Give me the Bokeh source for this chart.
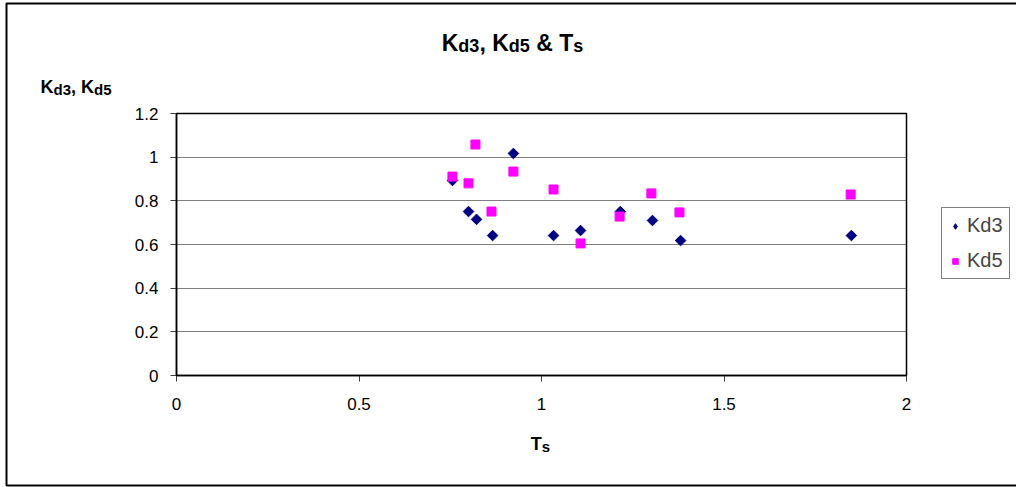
import math
from bokeh.plotting import figure
from bokeh.models import Label, Legend, LegendItem, Range1d, FixedTicker, BoxAnnotation
from bokeh.embed import file_html
from bokeh.resources import INLINE

# ---- data ----
ts_kd3 = [0.756, 0.800, 0.822, 0.866, 0.923, 1.033, 1.107, 1.216, 1.304, 1.381, 1.849]
kd3 = [0.893, 0.751, 0.715, 0.641, 1.017, 0.641, 0.664, 0.751, 0.710, 0.618, 0.641]
ts_kd5 = [0.756, 0.800, 0.819, 0.863, 0.923, 1.033, 1.107, 1.214, 1.301, 1.378, 1.847]
kd5 = [0.911, 0.880, 1.058, 0.751, 0.934, 0.852, 0.605, 0.728, 0.834, 0.747, 0.829]
x_ticks = [0, 0.5, 1, 1.5, 2]
y_ticks = [0, 0.2, 0.4, 0.6, 0.8, 1.0, 1.2]
X_MIN, X_MAX = 0, 2
Y_MIN, Y_MAX = 0, 1.2

W, H = 1016, 487
FONT = "Liberation Sans"
# plot area in page pixels
FL, FR, FT, FB = 176, 906, 113, 375
SX = (X_MAX - X_MIN) / (FR - FL)
SY = (Y_MAX - Y_MIN) / (FB - FT)


def dx(px):
    return X_MIN + (px - FL) * SX


def dy(py):
    return Y_MIN + (FB - py) * SY


p = figure(width=W, height=H, output_backend="svg", toolbar_location=None,
           x_range=Range1d(dx(0), dx(W)), y_range=Range1d(dy(H), dy(0)),
           min_border=0)
p.title.visible = False
p.background_fill_color = "white"
p.border_fill_color = "white"
p.outline_line_color = None

p.xgrid.visible = False
p.ygrid.grid_line_color = "#808080"
p.ygrid.grid_line_width = 1
p.ygrid.bounds = (Y_MIN, Y_MAX)
p.ygrid.cross_bounds = (X_MIN, X_MAX)

for ax in (p.xaxis, p.yaxis):
    ax.fixed_location = 0
    ax.axis_line_color = "black"
    ax.axis_line_width = 1.5
    ax.major_tick_line_color = "#404040"
    ax.major_tick_in = 0
    ax.major_tick_out = 6
    ax.minor_tick_line_color = None
    ax.major_label_text_font = FONT
    ax.major_label_text_font_size = "17px"
    ax.major_label_text_color = "black"
p.xaxis.bounds = (X_MIN, X_MAX)
p.yaxis.bounds = (Y_MIN, Y_MAX)
p.xaxis.ticker = FixedTicker(ticks=x_ticks)
p.yaxis.ticker = FixedTicker(ticks=y_ticks)
p.xaxis.major_label_overrides = {0: "0", 0.5: "0.5", 1: "1", 1.5: "1.5", 2: "2"}
p.yaxis.major_label_overrides = {0: "0", 0.2: "0.2", 0.4: "0.4", 0.6: "0.6", 0.8: "0.8", 1.0: "1", 1.2: "1.2"}
p.xaxis.major_label_standoff = 16
p.yaxis.major_label_standoff = 12

# plot-area border and outer chart border
p.add_layout(BoxAnnotation(left=X_MIN, right=X_MAX, bottom=Y_MIN, top=Y_MAX,
                           fill_color=None, line_color="black", line_alpha=1, line_width=1.5))
p.add_layout(BoxAnnotation(left=dx(6), right=dx(W + 20), bottom=dy(485), top=dy(3),
                           fill_color=None, line_color="black", line_alpha=1, line_width=2))

r3 = p.scatter(ts_kd3, kd3, marker="square", angle=math.pi / 4, size=7.5,
               fill_color="#000080", line_color="#000080")
r5 = p.scatter(ts_kd5, kd5, marker="square", size=9,
               fill_color="#FF00FF", line_color="#FF00FF")
# legend-only glyph for the diamond symbol (a single undrawn NaN point)
r3_leg = p.scatter([float("nan")], [float("nan")], marker="diamond", size=15,
                   fill_color="#000080", line_color="#000080")

legend = Legend(items=[LegendItem(label="Kd3", renderers=[r3_leg]),
                       LegendItem(label="Kd5", renderers=[r5])],
                location=(941, H - 279),
                label_text_font=FONT, label_text_font_size="20px",
                border_line_color="black", border_line_width=1,
                glyph_width=14, glyph_height=20, label_height=20,
                spacing=12, padding=6, label_standoff=5, margin=0,
                background_fill_color="white", background_fill_alpha=1)
p.add_layout(legend, "center")

# rich text with subscripts (Arial/Liberation Sans Bold advance widths)
WID = {"K": 0.722, "d": 0.611, "3": 0.556, "5": 0.556, ",": 0.278, " ": 0.278,
       "&": 0.722, "T": 0.611, "s": 0.556}


def rich(pieces, x_page, base_page, main, sub, drop, align="left"):
    total = 0
    for txt, is_sub in pieces:
        size = sub if is_sub else main
        total += sum(WID[c] for c in txt) * size
    x = x_page - (total / 2 if align == "center" else 0)
    for txt, is_sub in pieces:
        size = sub if is_sub else main
        y_page = base_page + (drop if is_sub else 0)
        lead = len(txt) - len(txt.lstrip(" "))
        x_txt = x + lead * WID[" "] * size
        p.add_layout(Label(x=dx(x_txt), y=dy(y_page),
                           text=txt.strip(" "), text_font=FONT, text_font_style="bold",
                           text_font_size=f"{size}px", text_baseline="alphabetic",
                           text_align="left", text_color="black"))
        x += sum(WID[c] for c in txt) * size


rich([("K", False), ("d3", True), (", K", False), ("d5", True), (" & T", False), ("s", True)],
     512, 42, 23, 18, 3, align="center")
rich([("K", False), ("d3", True), (", K", False), ("d5", True)],
     40, 86, 18, 15, 3)
rich([("T", False), ("s", True)], 540, 443, 18, 15, 3, align="center")

open("out.html", "w").write(file_html(p, INLINE))
